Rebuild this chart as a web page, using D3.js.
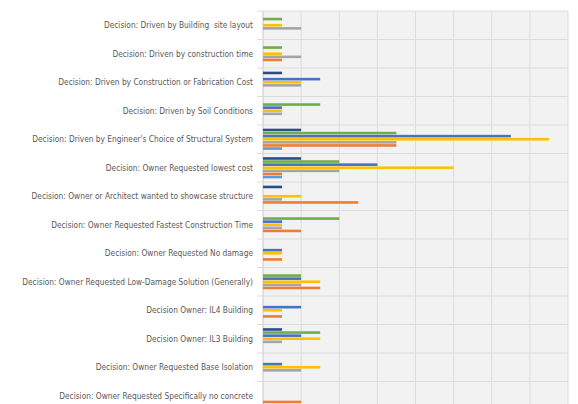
<!DOCTYPE html>
<html><head><meta charset="utf-8">
<script src="https://cdn.jsdelivr.net/npm/d3@7"></script>
<style>body{margin:0;background:#fff}svg{display:block}</style>
</head><body>
<svg id="c" width="578" height="404"></svg>
<script>
const categories = [
  "Decision: Driven by Building  site layout",
  "Decision: Driven by construction time",
  "Decision: Driven by Construction or Fabrication Cost",
  "Decision: Driven by Soil Conditions",
  "Decision: Driven by Engineer's Choice of Structural System",
  "Decision: Owner Requested lowest cost",
  "Decision: Owner or Architect wanted to showcase structure",
  "Decision: Owner Requested Fastest Construction Time",
  "Decision: Owner Requested No damage",
  "Decision: Owner Requested Low-Damage Solution (Generally)",
  "Decision Owner: IL4 Building",
  "Decision Owner: IL3 Building",
  "Decision: Owner Requested Base Isolation",
  "Decision: Owner Requested Specifically no concrete"
];
const seriesNames = ["S7","S6","S5","S4","S3","S2","S1"];
const seriesColors = ["#264F8C","#70AD47","#4472C4","#FFC000","#A5A5A5","#ED7D31","#5B9BD5"];
const s7 = [0,0,1,0,2,2,1,0,0,0,0,1,0,0];
const s6 = [1,1,0,3,7,4,0,4,0,2,0,3,0,0];
const s5 = [0,0,3,1,13,6,0,1,1,2,2,2,1,0];
const s4 = [1,1,2,1,15,10,2,1,1,3,1,3,3,0];
const s3 = [2,2,2,1,7,4,1,1,0,2,0,1,2,0];
const s2 = [0,1,0,0,7,1,5,2,1,3,1,0,0,2];
const s1 = [0,0,0,0,1,1,0,0,0,0,0,0,0,0];
const seriesValues = [s7,s6,s5,s4,s3,s2,s1];
const xTicks = [0,2,4,6,8,10,12,14,16];

(function(){
const svg = d3.select("#c");
const pL = 263, pR = 568, pT = 11, pB = 11 + 14*28.5;
const x = d3.scaleLinear().domain([0,16]).range([pL,pR]);
const y0 = d3.scaleBand().domain(categories).range([pT,pB]).paddingInner(0.24).paddingOuter(0.12);
const y1 = d3.scaleBand().domain(seriesNames).range([0,y0.bandwidth()]);
const step = y0.step();

svg.append("rect").attr("x",pL).attr("y",pT).attr("width",pR-pL).attr("height",pB-pT).attr("fill","#f2f2f2");

svg.append("g").selectAll("line").data(xTicks).join("line")
  .attr("x1",d=>x(d)).attr("x2",d=>x(d)).attr("y1",pT).attr("y2",pB)
  .attr("stroke",d=>d===0?"#c8c8c8":"#dcdcdc").attr("stroke-width",1);
const bounds = d3.range(categories.length+1).map(i=>pT+i*step);
svg.append("g").selectAll("line").data(bounds).join("line")
  .attr("x1",pL-6).attr("x2",pR).attr("y1",d=>d).attr("y2",d=>d)
  .attr("stroke","#dcdcdc").attr("stroke-width",1);

const g = svg.append("g");
seriesNames.forEach((s,si)=>{
  g.append("g").selectAll("rect").data(seriesValues[si].map((v,i)=>({v,c:categories[i]}))).join("rect")
    .attr("x",x(0)).attr("width",d=>x(d.v)-x(0))
    .attr("y",d=>y0(d.c)+y1(s)+0.25).attr("height",y1.bandwidth()-0.5)
    .attr("fill",seriesColors[si]);
});

const labels = svg.append("g").selectAll("text").data(categories).join("text")
  .attr("x",253).attr("y",d=>y0(d)+y0.bandwidth()/2)
  .attr("text-anchor","end").attr("dominant-baseline","central")
  .attr("fill","#595959").style("white-space","pre")
  .style("font-family","'Liberation Sans Narrow', 'DejaVu Sans Condensed', Roboto, sans-serif").style("font-size","10px")
  .text(d=>d);
let maxW = 0; labels.each(function(){maxW=Math.max(maxW,this.getComputedTextLength());});
labels.style("font-size",(10*231/maxW).toFixed(2)+"px");
})();
</script>
</body></html>
